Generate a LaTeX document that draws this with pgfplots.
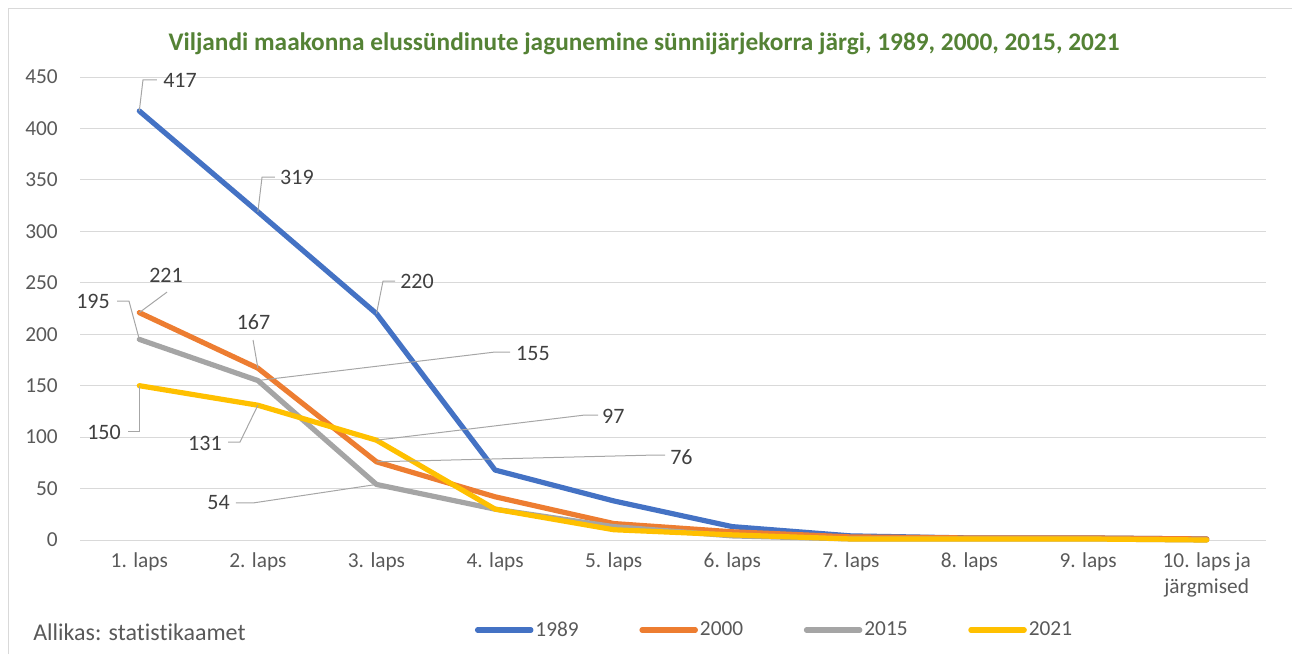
\documentclass[border=0pt]{standalone}
\usepackage{fontspec}
\setmainfont{Carlito}[Ligatures=NoCommon]
\usepackage{pgfplots}
\pgfplotsset{compat=1.18}
\definecolor{cA}{HTML}{4472C4}
\definecolor{cB}{HTML}{ED7D31}
\definecolor{cC}{HTML}{A5A5A5}
\definecolor{cD}{HTML}{FFC000}
\definecolor{gridc}{HTML}{D9D9D9}
\definecolor{tickc}{HTML}{595959}
\definecolor{labc}{HTML}{404040}
\definecolor{leadc}{HTML}{A6A6A6}
\definecolor{titlec}{HTML}{548235}
\newcommand{\lf}{\fontsize{16}{20}\selectfont}
\newcommand{\df}{\fontsize{16.5}{20}\selectfont}
\begin{document}
\begin{tikzpicture}
\begin{scope}[x=0.75pt,y=-0.75pt]
\path[use as bounding box] (0,0) rectangle (1292,654);
\draw[gridc, line width=0.75pt] (8,654) -- (8,8) -- (1292,8);
\node[font=\bfseries\fontsize{19}{22}\selectfont, text=titlec] at (644,44) {Viljandi maakonna elussündinute jagunemine sünnijärjekorra järgi, 1989, 2000, 2015, 2021};
\node[anchor=west, font=\fontsize{18}{20}\selectfont, text=tickc, inner sep=0pt] at (33,632) {Allikas: statistikaamet};
\end{scope}
\begin{axis}[
  at={(60pt,-405pt)}, anchor=south west,
  scale only axis, width=889.5pt, height=347.25pt,
  xmin=-0.5, xmax=9.5, ymin=0, ymax=450,
  clip=false,
  xtick={0,...,9},
  xticklabels={1. laps,2. laps,3. laps,4. laps,5. laps,6. laps,7. laps,8. laps,9. laps,{10. laps ja\\järgmised}},
  ytick={0,50,...,450},
  /pgf/number format/assume math mode=true,
  major tick length=0pt,
  ymajorgrids, grid style={gridc, line width=0.75pt},
  axis x line*=bottom, axis y line*=left,
  x axis line style={gridc, line width=0.75pt, -},
  y axis line style={draw=none},
  tick label style={font=\lf, text=tickc},
  x tick label style={align=center, anchor=north, yshift=-9pt, inner sep=0pt},
  y tick label style={anchor=east, xshift=-16.5pt, inner sep=0pt},
  every axis plot/.append style={line width=3.9pt, line join=round, line cap=round, mark=none},
  legend columns=4,
  legend style={at={(0.5856,-0.1944)}, anchor=center, draw=none, fill=none, font=\lf, text=tickc,
    /tikz/every even column/.append style={column sep=44pt},
    nodes={inner sep=1.5pt}},
  legend image code/.code={\draw[#1, line width=3.9pt, line cap=round] (0pt,0pt) -- (40pt,0pt);},
]
\addplot[cA] coordinates {(0,417) (1,319) (2,220) (3,68) (4,38) (5,13) (6,4) (7,2) (8,2) (9,1)};
\addplot[cB] coordinates {(0,221) (1,167) (2,76) (3,42) (4,16) (5,8) (6,3) (7,2) (8,2) (9,1)};
\addplot[cC] coordinates {(0,195) (1,155) (2,54) (3,30) (4,13) (5,4) (6,1) (7,1) (8,1) (9,0)};
\addplot[cD] coordinates {(0,150) (1,131) (2,97) (3,30) (4,10) (5,5) (6,1) (7,1) (8,1) (9,0)};
\legend{1989,2000,2015,2021}
% leader lines
\begin{scope}[leadc, line width=0.75pt]
\draw (axis cs:0,417) -- (axis cs:0.031,447.1) -- (axis cs:0.149,447.1);
\draw (axis cs:1,319) -- (axis cs:1.035,352.8) -- (axis cs:1.144,352.8);
\draw (axis cs:2,220) -- (axis cs:2.055,251.7) -- (axis cs:2.156,251.7);
\draw (axis cs:0,221) -- (axis cs:0.234,241.0);
\draw (axis cs:0,195) -- (axis cs:-0.087,232.3) -- (axis cs:-0.188,232.3);
\draw (axis cs:1,167) -- (axis cs:0.959,194.4);
\draw (axis cs:1,155) -- (axis cs:2.999,182.7) -- (axis cs:3.126,182.7);
\draw (axis cs:2,97) -- (axis cs:3.758,121.5) -- (axis cs:3.868,121.5);
\draw (axis cs:2,76) -- (axis cs:4.348,82.6) -- (axis cs:4.433,82.6);
\draw (axis cs:2,54) -- (axis cs:0.959,36.0) -- (axis cs:0.815,36.0);
\draw (axis cs:1,131) -- (axis cs:0.849,95.2) -- (axis cs:0.748,95.2);
\draw (axis cs:0,150) -- (axis cs:0,105.9) -- (axis cs:-0.095,105.9);
\end{scope}
% labels
\begin{scope}[every node/.style={font=\df, text=labc, inner sep=0pt}]
\node[anchor=west] at (axis cs:0.200,447.1) {417};
\node[anchor=west] at (axis cs:1.186,352.8) {319};
\node[anchor=west] at (axis cs:2.198,251.7) {220};
\node at (axis cs:0.225,257.6) {221};
\node[anchor=east] at (axis cs:-0.247,232.3) {195};
\node at (axis cs:0.963,211.9) {167};
\node[anchor=west] at (axis cs:3.176,181) {155};
\node[anchor=west] at (axis cs:3.901,120.0) {97};
\node[anchor=west] at (axis cs:4.475,80.5) {76};
\node[anchor=east] at (axis cs:0.765,36.0) {54};
\node[anchor=east] at (axis cs:0.697,94.3) {131};
\node[anchor=east] at (axis cs:-0.154,105.0) {150};
\end{scope}
\end{axis}
\end{tikzpicture}
\end{document}
